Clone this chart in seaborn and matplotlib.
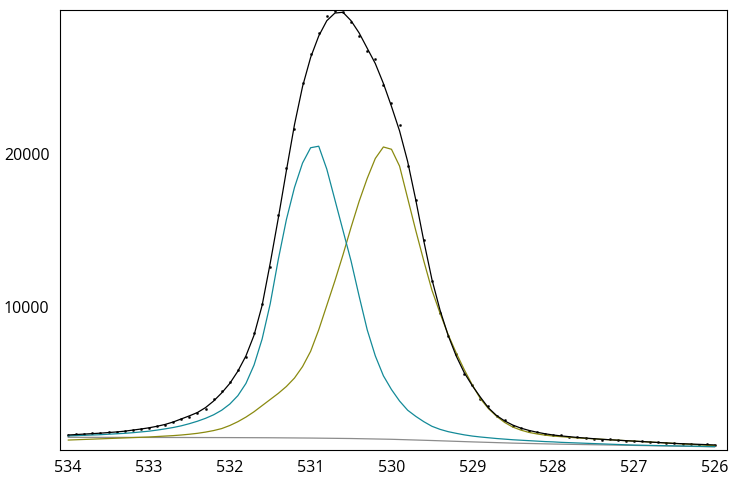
import numpy as np
import matplotlib
matplotlib.use("Agg")
import matplotlib.pyplot as plt
import seaborn as sns

# binding energy grid, 534 -> 526 eV in 0.1 eV steps
energy = np.round(np.linspace(534.0, 526.0, 81), 1)

envelope = [1630, 1660, 1690, 1720, 1750, 1790, 1830, 1880, 1950, 2020, 2100,
            2200, 2320, 2480, 2680, 2880, 3100, 3420, 3850, 4380, 5000,
            5800, 6800, 8150, 10100, 12850, 15800, 18900, 21900, 24400, 26300,
            27700, 28700, 29200, 29250, 28700, 27900, 26900, 25900, 24600, 23100,
            21500, 19500, 17000, 14300, 11800, 9800, 8150, 6800, 5700, 4850,
            4100, 3400, 2900, 2550, 2280, 2080, 1930, 1810, 1710, 1630,
            1570, 1520, 1470, 1430, 1390, 1350, 1320, 1290, 1260, 1230,
            1200, 1170, 1140, 1110, 1080, 1060, 1040, 1020, 1000, 980]

peak_1 = [1570, 1590, 1610, 1630, 1650, 1680, 1710, 1740, 1780, 1830, 1880,
          1950, 2030, 2120, 2230, 2370, 2530, 2720, 2950, 3250, 3650,
          4200, 5000, 6200, 7900, 10200, 13100, 15700, 17800, 19400, 20400,
          20500, 19000, 17000, 15000, 13000, 10700, 8500, 6800, 5500, 4600,
          3850, 3250, 2850, 2500, 2200, 2000, 1850, 1740, 1640, 1560,
          1500, 1450, 1400, 1360, 1320, 1290, 1260, 1230, 1200, 1180,
          1150, 1130, 1110, 1090, 1070, 1050, 1030, 1010, 990, 970,
          960, 950, 940, 930, 920, 910, 900, 890, 880, 870]

peak_2 = [1300, 1320, 1340, 1360, 1380, 1400, 1420, 1440, 1460, 1480, 1500,
          1530, 1560, 1590, 1630, 1680, 1740, 1820, 1920, 2050, 2250,
          2500, 2800, 3150, 3550, 3950, 4350, 4800, 5350, 6100, 7100,
          8500, 10100, 11700, 13400, 15200, 16900, 18400, 19700, 20450, 20300,
          19200, 17100, 15000, 13000, 11100, 9600, 8200, 7000, 5900, 4900,
          4000, 3350, 2850, 2450, 2150, 1950, 1800, 1700, 1620, 1560,
          1520, 1480, 1440, 1410, 1380, 1350, 1320, 1290, 1260, 1230,
          1200, 1170, 1140, 1110, 1080, 1050, 1020, 990, 960, 930]

measured = [1600, 1680, 1670, 1740, 1730, 1800, 1850, 1870, 1960, 2050, 2080,
            2230, 2300, 2500, 2700, 2800, 3050, 3350, 3950, 4500, 5100,
            5900, 6700, 8300, 10200, 12600, 16000, 19100, 21600, 24600, 26500,
            27900, 29000, 29350, 29300, 28600, 27700, 26700, 26200, 24500, 23300,
            21900, 19200, 17000, 14400, 11700, 9600, 8100, 6900, 5600, 4900,
            4000, 3500, 2850, 2600, 2250, 2100, 1900, 1850, 1700, 1650,
            1600, 1500, 1480, 1420, 1400, 1330, 1340, 1280, 1270, 1210,
            1220, 1160, 1150, 1090, 1100, 1040, 1060, 1000, 1010, 970]

bg_energy = [534, 533, 532, 531.5, 531, 530.5, 530, 529.5, 529, 528.5, 528, 527, 526]
background = [1480, 1470, 1460, 1450, 1430, 1400, 1350, 1270, 1180, 1100, 1040, 950, 860]

sns.set_style("white")
plt.rcParams['font.family'] = ['Open Sans', 'DejaVu Sans']

fig = plt.figure(figsize=(7.36, 4.79), dpi=100)
ax = fig.add_axes([60 / 736, 29 / 479, 667 / 736, 440 / 479])

sns.lineplot(x=bg_energy, y=background, color='#8c8c8c', lw=0.9, ax=ax, sort=False)
sns.lineplot(x=energy, y=peak_2, color='#8a8a10', lw=0.9, ax=ax, sort=False)
sns.lineplot(x=energy, y=peak_1, color='#138a98', lw=0.9, ax=ax, sort=False)
sns.lineplot(x=energy, y=envelope, color='black', lw=0.9, ax=ax, sort=False)
sns.scatterplot(x=energy, y=measured, color='black', s=3, edgecolor=None, ax=ax)

ax.set_xlim(534.1, 525.85)
ax.set_ylim(650, 29400)
ax.set_xticks(range(534, 525, -1))
ax.set_yticks([10000, 20000])
ax.tick_params(direction='out', length=4, width=0.8, labelsize=11.5, colors='black')
for s in ax.spines.values():
    s.set_color('black')
    s.set_linewidth(0.8)

fig.savefig('out.png', dpi=100)
